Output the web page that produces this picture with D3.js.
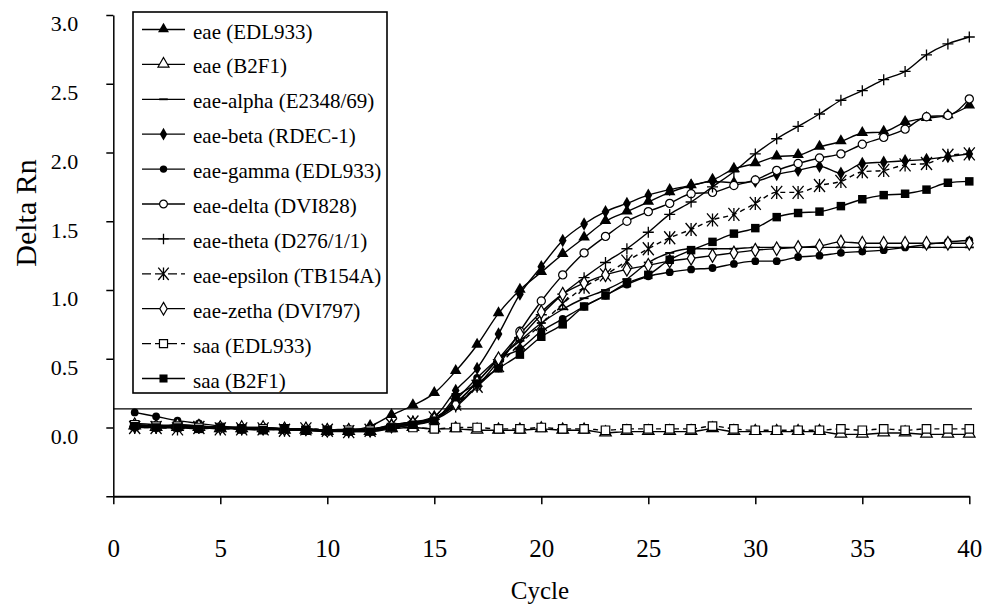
<!DOCTYPE html>
<html>
<head>
<meta charset="utf-8">
<script src="https://cdn.jsdelivr.net/npm/d3@7"></script>
<style>
  html, body { margin: 0; padding: 0; background: #fff; }
  svg { display: block; }
  svg text { font-family: "Liberation Serif", "Times New Roman", Times, "DejaVu Serif", serif !important; fill: #000; }
</style>
</head>
<body>
<svg id="chart" width="987" height="609"></svg>
<script>
// ---------------- data ----------------
const cycles = d3.range(1, 41);
const xTicks = [0, 5, 10, 15, 20, 25, 30, 35, 40];
const yTicks = [-0.5, 0.0, 0.5, 1.0, 1.5, 2.0, 2.5, 3.0];
const threshold = 0.135;

const seriesNames = [
  "eae (EDL933)", "eae (B2F1)", "eae-alpha (E2348/69)", "eae-beta (RDEC-1)",
  "eae-gamma (EDL933)", "eae-delta (DVI828)", "eae-theta (D276/1/1)",
  "eae-epsilon (TB154A)", "eae-zetha (DVI797)", "saa (EDL933)", "saa (B2F1)"
];
const seriesMarkers = ["triFill", "triOpen", "dash", "diamondFill", "circleFill",
  "circleOpen", "plus", "asterisk", "diamondOpen", "squareOpen", "squareFill"];
const seriesDashed = [false, false, false, false, false, false, false, true, false, true, false];

const eaeEDL933 = [0.02,0.01,0.01,0.00,0.00,-0.01,-0.01,-0.01,-0.02,-0.02,-0.02,0.01,
  0.09,0.16,0.25,0.41,0.60,0.83,1.00,1.13,1.26,1.38,1.50,1.57,1.64,1.71,1.76,1.80,
  1.88,1.92,1.97,1.98,2.04,2.08,2.14,2.15,2.22,2.25,2.27,2.34];
const eaeB2F1 = [0.01,0.00,0.00,0.00,-0.01,-0.01,-0.01,-0.02,-0.02,-0.03,-0.03,-0.03,
  -0.01,0.00,-0.01,-0.01,-0.02,-0.02,-0.02,-0.01,-0.02,-0.02,-0.04,-0.03,-0.03,-0.03,
  -0.03,-0.01,-0.03,-0.03,-0.03,-0.03,-0.03,-0.05,-0.05,-0.04,-0.04,-0.05,-0.05,-0.05];
const eaeAlpha = [0.03,0.02,0.01,0.01,0.00,0.00,-0.01,-0.01,-0.02,-0.02,-0.02,-0.01,
  0.01,0.03,0.07,0.18,0.33,0.50,0.63,0.76,0.86,0.94,1.00,1.08,1.20,1.27,1.30,1.30,
  1.30,1.31,1.31,1.31,1.31,1.31,1.31,1.31,1.31,1.31,1.31,1.31];
const eaeBeta = [0.00,0.00,0.02,0.01,0.00,-0.01,-0.01,-0.01,-0.01,-0.02,-0.02,-0.02,
  0.02,0.04,0.08,0.27,0.43,0.68,0.97,1.17,1.36,1.48,1.57,1.63,1.69,1.73,1.76,1.79,
  1.78,1.79,1.84,1.87,1.90,1.85,1.92,1.93,1.94,1.95,1.97,1.99];
const eaeGamma = [0.11,0.08,0.05,0.03,0.01,0.00,0.00,-0.01,-0.01,-0.02,-0.02,-0.02,
  0.00,0.02,0.06,0.20,0.36,0.50,0.57,0.70,0.79,0.88,0.96,1.04,1.10,1.13,1.15,1.16,
  1.19,1.21,1.21,1.24,1.25,1.27,1.28,1.29,1.31,1.33,1.35,1.36];
const eaeDelta = [0.02,0.01,0.00,0.01,0.00,-0.01,0.00,-0.01,-0.02,-0.03,-0.02,-0.02,
  0.01,0.03,0.07,0.16,0.30,0.45,0.70,0.92,1.11,1.27,1.39,1.50,1.57,1.63,1.70,1.71,
  1.76,1.80,1.87,1.92,1.96,1.99,2.06,2.11,2.17,2.26,2.27,2.39];
const eaeTheta = [0.01,0.00,0.00,0.00,0.00,0.00,-0.01,-0.01,-0.01,-0.02,-0.01,-0.01,
  0.02,0.04,0.06,0.15,0.30,0.48,0.65,0.82,0.97,1.09,1.20,1.30,1.42,1.55,1.64,1.75,
  1.86,1.99,2.10,2.19,2.28,2.38,2.45,2.53,2.59,2.71,2.79,2.84];
const eaeEpsilon = [0.00,0.00,-0.01,0.00,-0.01,-0.01,-0.01,-0.02,-0.01,-0.02,-0.03,-0.02,
  0.02,0.04,0.07,0.17,0.30,0.45,0.61,0.75,0.90,1.02,1.11,1.21,1.30,1.38,1.44,1.51,
  1.55,1.63,1.71,1.71,1.76,1.79,1.86,1.87,1.91,1.92,1.98,1.99];
const eaeZetha = [0.02,0.01,0.02,0.01,0.00,0.00,0.00,-0.01,-0.01,-0.02,-0.02,-0.02,
  0.01,0.03,0.06,0.17,0.33,0.50,0.68,0.84,0.97,1.05,1.11,1.15,1.18,1.21,1.23,1.25,
  1.27,1.29,1.30,1.31,1.32,1.35,1.34,1.34,1.34,1.34,1.34,1.34];
const saaEDL933 = [0.02,0.01,0.01,0.00,0.00,-0.01,-0.01,-0.01,-0.02,-0.02,-0.02,-0.02,
  0.00,0.00,-0.01,0.00,0.00,-0.01,-0.01,0.00,-0.01,-0.01,-0.02,-0.01,-0.01,-0.01,
  -0.01,0.01,-0.01,-0.02,-0.02,-0.02,-0.02,-0.01,-0.02,-0.01,-0.02,-0.01,-0.01,-0.01];
const saaB2F1 = [0.01,0.00,0.00,-0.01,0.00,-0.01,-0.02,-0.01,-0.02,-0.02,-0.03,-0.03,
  0.00,0.02,0.05,0.22,0.32,0.43,0.53,0.66,0.75,0.88,0.96,1.05,1.11,1.22,1.29,1.35,
  1.41,1.45,1.53,1.56,1.57,1.61,1.66,1.69,1.70,1.73,1.78,1.79];

const seriesValues = [eaeEDL933, eaeB2F1, eaeAlpha, eaeBeta, eaeGamma, eaeDelta,
  eaeTheta, eaeEpsilon, eaeZetha, saaEDL933, saaB2F1];

// ---------------- chart ----------------
const FONT = "Liberation Serif, Times New Roman, Times, DejaVu Serif, serif";
const svg = d3.select("#chart").attr("font-family", FONT);
const x = d3.scaleLinear().domain([0, 40]).range([113.3, 969.3]);
const y = d3.scaleLinear().domain([-0.5, 3.0]).range([496.25, 15]);

function drawMarker(g, type, s) {
  const k = s || 1;
  const tri = d3.symbol().type(d3.symbolTriangle).size(58 * k * k)();
  const dia = d3.symbol().type(d3.symbolDiamond).size(52 * k * k)();
  const sq = d3.symbol().type(d3.symbolSquare).size(72 * k * k)();
  switch (type) {
    case "triFill":
      g.append("path").attr("d", tri).attr("transform", "translate(0,-0.5)").attr("fill", "#000"); break;
    case "triOpen":
      g.append("path").attr("d", tri).attr("transform", "translate(0,-0.5)").attr("fill", "#fff").attr("stroke", "#000").attr("stroke-width", 1.2); break;
    case "dash":
      g.append("line").attr("x1", -4.5 * k).attr("x2", 4.5 * k).attr("stroke", "#000").attr("stroke-width", 1.8); break;
    case "diamondFill":
      g.append("path").attr("d", dia).attr("fill", "#000"); break;
    case "diamondOpen":
      g.append("path").attr("d", dia).attr("fill", "#fff").attr("stroke", "#000").attr("stroke-width", 1.2); break;
    case "circleFill":
      g.append("circle").attr("r", 3.9 * k).attr("fill", "#000"); break;
    case "circleOpen":
      g.append("circle").attr("r", 4.1 * k).attr("fill", "#fff").attr("stroke", "#000").attr("stroke-width", 1.2); break;
    case "squareFill":
      g.append("path").attr("d", sq).attr("fill", "#000"); break;
    case "squareOpen":
      g.append("path").attr("d", sq).attr("fill", "#fff").attr("stroke", "#000").attr("stroke-width", 1.2); break;
    case "plus":
      g.append("path").attr("d", `M${-5.5*k},0H${5.5*k}M0,${-5.5*k}V${5.5*k}`).attr("stroke", "#000").attr("stroke-width", 1.3).attr("fill", "none"); break;
    case "asterisk":
      g.append("path").attr("d", `M${-5.5*k},${-6.5*k}L${5.5*k},${6.5*k}M${-5.5*k},${6.5*k}L${5.5*k},${-6.5*k}M0,${-6.5*k}V${6.5*k}`).attr("stroke", "#000").attr("stroke-width", 1.3).attr("fill", "none"); break;
  }
}

// axes
const yAxis = d3.axisLeft(y).tickValues(yTicks).tickSize(7).tickSizeOuter(0).tickPadding(28)
  .tickFormat(d => d < 0 ? "" : d.toFixed(1));
const yG = svg.append("g").attr("transform", `translate(${x(0)},0)`).call(yAxis)
  .attr("font-family", FONT).attr("font-size", 22);
yG.select(".domain").attr("stroke", "#000").attr("stroke-width", 1.5);
yG.selectAll(".tick line").attr("stroke", "#000").attr("stroke-width", 1.5);
yG.selectAll(".tick text").attr("font-size", 22).attr("dy", "0.72em").attr("font-family", FONT);

const xAxis = d3.axisBottom(x).tickValues(xTicks).tickSize(8).tickSizeOuter(0).tickPadding(35);
const xG = svg.append("g").attr("transform", `translate(0,${y(-0.5)})`).call(xAxis)
  .attr("font-family", FONT).attr("font-size", 25);
xG.select(".domain").attr("stroke", "#000").attr("stroke-width", 1.8);
xG.selectAll(".tick line").attr("stroke", "#000").attr("stroke-width", 1.5);
xG.selectAll(".tick text").attr("font-size", 25).attr("font-family", FONT);

// axis titles
svg.append("text").attr("x", 540).attr("y", 599).attr("text-anchor", "middle")
  .attr("font-family", FONT).attr("font-size", 25).text("Cycle");
svg.append("text").attr("transform", "translate(36,213) rotate(-90)").attr("text-anchor", "middle")
  .attr("font-family", FONT).attr("font-size", 30).text("Delta Rn");

// threshold line
svg.append("line").attr("x1", x(0)).attr("x2", 972).attr("y1", y(threshold)).attr("y2", y(threshold))
  .attr("stroke", "#000").attr("stroke-width", 1.3);

// series
const line = d3.line().x((d, i) => x(cycles[i])).y(d => y(d)).curve(d3.curveMonotoneX);
const plot = svg.append("g");
seriesValues.forEach((vals, si) => {
  plot.append("path").attr("d", line(vals)).attr("fill", "none").attr("stroke", "#000")
    .attr("stroke-width", 1.4).attr("stroke-dasharray", seriesDashed[si] ? "5,4" : null);
});
seriesValues.forEach((vals, si) => {
  vals.forEach((v, i) => {
    const g = plot.append("g").attr("transform", `translate(${x(cycles[i])},${y(v)})`);
    drawMarker(g, seriesMarkers[si], 1);
  });
});

// legend
const legend = svg.append("g");
legend.append("rect").attr("x", 133).attr("y", 12).attr("width", 254).attr("height", 381)
  .attr("fill", "#fff").attr("stroke", "#000").attr("stroke-width", 1.6);
seriesNames.forEach((name, i) => {
  const cy = 29.5 + i * 34.9;
  legend.append("line").attr("x1", 142).attr("x2", 185).attr("y1", cy).attr("y2", cy)
    .attr("stroke", "#000").attr("stroke-width", 1.3)
    .attr("stroke-dasharray", seriesDashed[i] ? "9,4" : null);
  const g = legend.append("g").attr("transform", `translate(163.5,${cy})`);
  drawMarker(g, seriesMarkers[i], 0.95);
  legend.append("text").attr("x", 193).attr("y", cy + 9).attr("font-family", FONT)
    .attr("font-size", 21).text(name);
});
</script>
</body>
</html>
